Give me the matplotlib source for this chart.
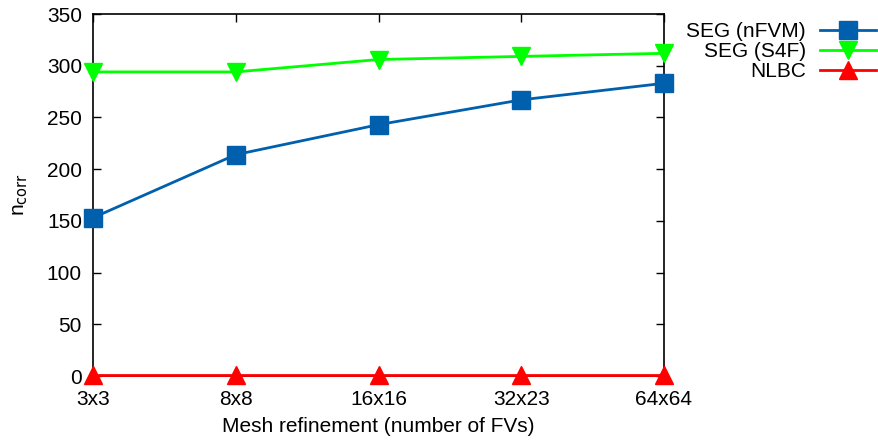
import matplotlib
matplotlib.use("Agg")
import matplotlib.pyplot as plt

plt.rcParams['font.family'] = ['Liberation Sans', 'DejaVu Sans']

# data
meshes = ['3x3', '8x8', '16x16', '32x23', '64x64']
seg_nfvm = [153, 214, 243, 267, 283]
seg_s4f = [294, 294, 306, 309, 312]
nlbc = [1, 1, 1, 1, 1]

x = list(range(len(meshes)))

fig = plt.figure(figsize=(8.79, 4.47), dpi=100)
ax = fig.add_axes([93 / 879, 71 / 447, 571 / 879, 362 / 447])

ax.plot(x, seg_nfvm, color='#0060ad', lw=2, marker='s', ms=13,
        label='SEG (nFVM)', clip_on=False, zorder=3)
ax.plot(x, seg_s4f, color='#00ff00', lw=2, marker='v', ms=13,
        label='SEG (S4F)', clip_on=False, zorder=3)
ax.plot(x, nlbc, color='#ff0000', lw=2, marker='^', ms=13,
        label='NLBC', clip_on=False, zorder=3)

ax.set_xlim(0, len(meshes) - 1)
ax.set_ylim(0, 350)
ax.set_xticks(x)
ax.set_xticklabels(meshes)
ax.set_yticks(range(0, 351, 50))
ax.tick_params(direction='in', length=6, width=1, labelsize=15,
               top=True, right=True)
ax.tick_params(axis='x', pad=10)
ax.tick_params(axis='y', pad=8)
for s in ax.spines.values():
    s.set_linewidth(1.2)

ax.set_xlabel('Mesh refinement (number of FVs)', fontsize=15, labelpad=6)
ax.set_ylabel(r'n$_{\rm corr}$', fontsize=15, labelpad=12)

# legend sits outside the axes, text first then sample
fig.legend(loc='upper left', bbox_to_anchor=(678 / 879, 1 - 14 / 447),
           frameon=False, markerfirst=False, fontsize=15, handlelength=2.7,
           labelspacing=0.05, handletextpad=0.65, borderaxespad=0)

fig.savefig('out.png', dpi=100)
